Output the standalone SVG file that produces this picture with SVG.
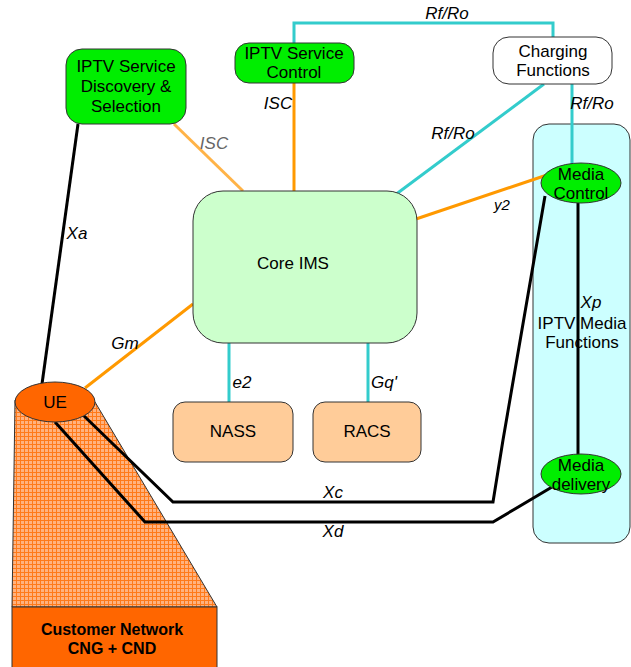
<svg xmlns="http://www.w3.org/2000/svg" width="631" height="667" viewBox="0 0 631 667">
<defs>
<pattern id="grid" width="4" height="4" patternUnits="userSpaceOnUse">
<rect width="4" height="4" fill="#ffb27f"/>
<path d="M0 0.5H4M0.5 0V4" stroke="#ff7a1a" stroke-width="1"/>
</pattern>
<style>
text{font-family:"Liberation Sans",Arial,sans-serif;font-size:17px;fill:#000;text-anchor:middle;dominant-baseline:central}
.lbl{font-style:italic}
.gray{fill:#666}
.node{stroke:#333;stroke-width:1}
.blk{fill:none;stroke:#000;stroke-width:3}
.org{fill:none;stroke:#ff9900;stroke-width:3}
.cyn{fill:none;stroke:#33cccc;stroke-width:3}
.bold{font-weight:bold;font-size:16px}
</style>
</defs>
<rect width="631" height="667" fill="#fff"/>
<g id="iptv-media-functions">
<rect x="533" y="124" width="97" height="419" rx="16" fill="#ccffff" stroke="#333" stroke-width="1"/>
<text x="582" y="323">IPTV Media</text>
<text x="582" y="342">Functions</text>
</g>
<g id="customer-network">
<polygon points="15,400 95,402 217,607 12,607" fill="url(#grid)" stroke="#333" stroke-width="1"/>
<rect x="12" y="607" width="205" height="62" fill="#ff6600" stroke="#333" stroke-width="1"/>
<text class="bold" x="112" y="629">Customer Network</text>
<text class="bold" x="112" y="648">CNG + CND</text>
</g>
<g id="connectors">
<polyline class="cyn" points="294,43 294,23 553,23 553,37"/>
<line class="org" x1="294" y1="83" x2="294" y2="191"/>
<line class="cyn" x1="544" y1="84" x2="395" y2="195"/>
<line class="cyn" x1="572" y1="84" x2="572" y2="164"/>
<line class="cyn" x1="229" y1="343" x2="229" y2="402"/>
<line class="cyn" x1="368" y1="343" x2="368" y2="402"/>
<line x1="174" y1="124" x2="243" y2="191" stroke="#ffb347" stroke-width="3"/>
<line class="org" x1="416" y1="219" x2="547" y2="175"/>
<line class="org" x1="85" y1="388" x2="193" y2="304"/>
<line class="blk" x1="78" y1="124" x2="42" y2="384"/>
<polyline class="blk" points="83,415 173,502 493,502 503,440 545,196"/>
<polyline class="blk" points="55,422 145,522 493,522 552,487"/>
<line class="blk" x1="578" y1="203" x2="578" y2="455"/>
<text class="lbl" x="447" y="13">Rf/Ro</text>
<text class="lbl" x="278" y="103">ISC</text>
<text class="lbl" x="453" y="133">Rf/Ro</text>
<text class="lbl" x="592" y="103">Rf/Ro</text>
<text class="lbl gray" x="214" y="143">ISC</text>
<text class="lbl" x="502" y="204" style="font-size:15px">y2</text>
<text class="lbl" x="77" y="233">Xa</text>
<text class="lbl" x="125" y="343">Gm</text>
<text class="lbl" x="242" y="382">e2</text>
<text class="lbl" x="384" y="382">Gq'</text>
<text class="lbl" x="591" y="302">Xp</text>
<text class="lbl" x="333" y="492">Xc</text>
<text class="lbl" x="333" y="531">Xd</text>
</g>
<g id="service-discovery">
<rect class="node" x="66" y="49" width="120" height="75" rx="16" fill="#00ee00"/>
<text x="126" y="66">IPTV Service</text>
<text x="126" y="86">Discovery &amp;</text>
<text x="126" y="106">Selection</text>
</g>
<g id="service-control">
<rect class="node" x="235" y="43" width="119" height="40" rx="14" fill="#00ee00"/>
<text x="294" y="53">IPTV Service</text>
<text x="294" y="72">Control</text>
</g>
<g id="charging-functions">
<rect class="node" x="493" y="37" width="119" height="47" rx="16" fill="#fff"/>
<text x="553" y="51">Charging</text>
<text x="553" y="70">Functions</text>
</g>
<g id="core-ims">
<rect class="node" x="193" y="191" width="224" height="152" rx="30" fill="#ccffcc"/>
<text x="293" y="263">Core IMS</text>
</g>
<g id="nass">
<rect class="node" x="173" y="402" width="120" height="60" rx="12" fill="#ffcc99"/>
<text x="233" y="431">NASS</text>
</g>
<g id="racs">
<rect class="node" x="313" y="402" width="108" height="60" rx="12" fill="#ffcc99"/>
<text x="367" y="431">RACS</text>
</g>
<g id="media-control">
<ellipse class="node" cx="581" cy="183" rx="40" ry="20" fill="#00ee00"/>
<text x="581" y="174">Media</text>
<text x="581" y="193">Control</text>
</g>
<g id="media-delivery">
<ellipse class="node" cx="581" cy="474" rx="40" ry="20" fill="#00ee00"/>
<text x="581" y="465">Media</text>
<text x="581" y="484">delivery</text>
</g>
<g id="ue">
<ellipse class="node" cx="55" cy="402" rx="40" ry="20" fill="#ff6600"/>
<text x="55" y="402">UE</text>
</g>
</svg>
